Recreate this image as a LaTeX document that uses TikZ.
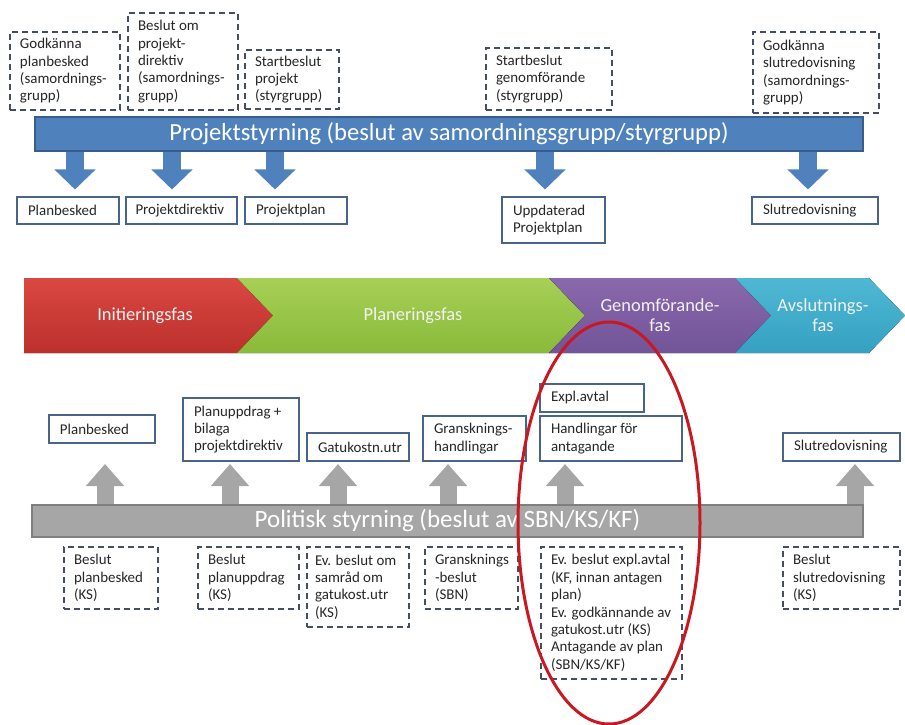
\documentclass[tikz,border=0pt]{standalone}
\usepackage{fontspec}
\setmainfont{Carlito}
\usetikzlibrary{arrows.meta}
\definecolor{styrbla}{RGB}{79,129,189}
\definecolor{styrblaram}{RGB}{56,93,138}
\definecolor{polgra}{RGB}{166,166,166}
\definecolor{polgraram}{RGB}{127,127,127}
\definecolor{dokram}{RGB}{72,100,138}
\definecolor{beslutram}{RGB}{68,78,98}
\definecolor{ringrod}{RGB}{200,25,35}
\tikzset{
    beslut/.style ={
        draw=beslutram,
        dash pattern=on 1.2mm off 0.8mm,
        line width=0.6pt,
        fill=white,
        inner xsep=2mm,
        inner ysep=0.4mm,
        align=flush left,
        text=black!85,
        font=\fontsize{8.5}{9.9}\selectfont
    },
    dok/.style ={
        draw=dokram,
        line width=0.6pt,
        fill=white,
        inner xsep=2.2mm,
        inner ysep=0.4mm,
        align=flush left,
        text=black!85,
        font=\fontsize{8.5}{9.9}\selectfont
    },
    styrbar/.style ={
        draw=styrblaram,
        fill=styrbla,
        line width=0.8pt,
        text=white,
        inner sep=0pt,
        font=\fontsize{14}{15}\selectfont
    },
    polbar/.style ={
        draw=polgraram,
        fill=polgra,
        line width=0.8pt,
        text=white,
        inner sep=0pt,
        font=\fontsize{14.2}{15}\selectfont
    },
    blapil/.style ={
        draw=styrbla,
        line width=3.6mm,
        -{Triangle[width=8mm,length=4mm]},
        shorten >=1.4mm
    },
    grapil/.style ={
        draw=polgra,
        line width=3.4mm,
        -{Triangle[width=7.4mm,length=4.4mm]}
    },
    fas/.style ={
        text=white!95!black,
        align=center,
        font=\fontsize{10.5}{11.5}\selectfont
    },
    ring/.style ={
        draw=ringrod,
        line width=0.6mm
    }
}

\begin{document}
\begin{tikzpicture}[x=0.2mm,y=-0.2mm]
    \useasboundingbox (0,0) rectangle (905,724);

    % projektstyrning
    \node[beslut,text width=18mm,minimum height=15.6mm] (gpb) at(65,71) {Godkänna\\planbesked\\(samordnings-\\grupp)};
    \node[beslut,text width=18mm,minimum height=19.4mm] (bpd) at(183,61.5) {Beslut om\\projekt-\\direktiv\\(samordnings-\\grupp)};
    \node[beslut,text width=14.8mm,minimum height=11.8mm] (sbp) at(292,79.5) {Startbeslut\\projekt\\(styrgrupp)};
    \node[beslut,text width=21.2mm,minimum height=12.4mm] (sbg) at(549,79) {Startbeslut\\genomförande\\(styrgrupp)};
    \node[beslut,text width=21.2mm,minimum height=16.2mm] (gsr) at(816,72.5) {Godkänna\\slutredovisning\\(samordnings-\\grupp)};

    \node[styrbar,minimum width=165.6mm,minimum height=6.8mm] (styr) at(449,134) {Projektstyrning (beslut av samordningsgrupp/styrgrupp)};

    \node[dok,text width=16mm,minimum height=5.4mm] (pb) at(68,210.5) {Planbesked};
    \node[dok,text width=18.4mm,inner xsep=1.9mm,minimum height=5.4mm] (pd) at(181.5,210.5) {Projektdirektiv};
    \node[dok,text width=16mm,minimum height=5.4mm] (pp) at(296,210.5) {Projektplan};
    \node[dok,text width=16.2mm,minimum height=9.2mm] (upp) at(553.5,220) {Uppdaterad\\Projektplan};
    \node[dok,text width=20.8mm,minimum height=5.4mm] (sr) at(815,210.5) {Slutredovisning};

    \coordinate (b1) at(75,190);
    \coordinate (b2) at(172,190);
    \coordinate (b3) at(275,190);
    \coordinate (b4) at(545,190);
    \coordinate (b5) at(808,190);
    \draw[blapil] (styr.south -| b1) -- (pb.north -| b1);
    \draw[blapil] (styr.south -| b2) -- (pd.north -| b2);
    \draw[blapil] (styr.south -| b3) -- (pp.north -| b3);
    \draw[blapil] (styr.south -| b4) -- (upp.north -| b4);
    \draw[blapil] (styr.south -| b5) -- (sr.north -| b5);

    % faser
    \fill[top color={rgb,255:red,218;green,72;blue,66},bottom color={rgb,255:red,188;green,48;blue,44}]
        (24,278) -- (237,278) -- (273,315.5) -- (237,353) -- (24,353) -- cycle;
    \fill[top color={rgb,255:red,166;green,208;blue,86},bottom color={rgb,255:red,138;green,186;blue,58}]
        (237,278) -- (549,278) -- (585,315.5) -- (549,353) -- (237,353) -- (273,315.5) -- cycle;
    \fill[top color={rgb,255:red,138;green,104;blue,172},bottom color={rgb,255:red,114;green,84;blue,152}]
        (549,278) -- (735,278) -- (771,315.5) -- (735,353) -- (549,353) -- (585,315.5) -- cycle;
    \fill[top color={rgb,255:red,78;green,184;blue,212},bottom color={rgb,255:red,54;green,160;blue,194}]
        (735,278) -- (869,278) -- (905,315.5) -- (869,353) -- (735,353) -- (771,315.5) -- cycle;
    \node[fas] (init) at(145,315.5) {Initieringsfas};
    \node[fas] (plan) at(413,315.5) {Planeringsfas};
    \node[fas] (genom) at(660,315.5) {Genomförande-\\fas};
    \node[fas] (avsl) at(823,315.5) {Avslutnings-\\fas};

    % politisk styrning
    \node[dok,text width=16.8mm,minimum height=5.6mm] (lpb) at(102,429) {Planbesked};
    \node[dok,text width=18.8mm,minimum height=12.6mm] (pu) at(241,429.5) {Planuppdrag +\\bilaga\\projektdirektiv};
    \node[dok,text width=16mm,minimum height=5.6mm] (gk) at(358,447) {Gatukostn.utr};
    \node[dok,text width=16.2mm,minimum height=9mm] (gh) at(474.5,438.5) {Gransknings-\\handlingar};
    \node[dok,text width=16.4mm,minimum height=5.6mm] (ea) at(592,398) {Expl.avtal};
    \node[dok,text width=24mm,minimum height=9mm] (ha) at(611,438.5) {Handlingar för\\antagande};
    \node[dok,text width=19mm,minimum height=5.6mm] (lsr) at(841.5,447) {Slutredovisning};

    \node[polbar,minimum width=166.2mm,minimum height=6.4mm] (pol) at(447.5,521) {Politisk styrning (beslut av SBN/KS/KF)};

    \coordinate (g1) at(105,464);
    \coordinate (g2) at(230,464);
    \coordinate (g3) at(338,464);
    \coordinate (g4) at(448,464);
    \coordinate (g5) at(565,464);
    \coordinate (g6) at(855,464);
    \foreach \g in {g1,g2,g3,g4,g5,g6}
        \draw[grapil] (pol.north -| \g) -- (\g);

    \node[beslut,text width=14.8mm,minimum height=12.4mm] (bpb) at(111,578) {Beslut\\planbesked\\(KS)};
    \node[beslut,text width=16.2mm,minimum height=12.4mm] (bpu) at(248.5,578) {Beslut\\planuppdrag\\(KS)};
    \node[beslut,text width=17.2mm,inner xsep=1.6mm,minimum height=16mm] (ebs) at(358,587) {Ev. beslut om\\samråd om\\gatukost.utr\\(KS)};
    \node[beslut,text width=14.6mm,minimum height=12.4mm] (gb) at(471.5,578) {Gransknings\\-beslut\\(SBN)};
    \node[beslut,text width=24.2mm,minimum height=26.4mm] (evb) at(611.5,613) {Ev. beslut expl.avtal\\(KF, innan antagen\\plan)\\Ev. godkännande av\\gatukost.utr (KS)\\Antagande av plan\\(SBN/KS/KF)};
    \node[beslut,text width=19.4mm,minimum height=12.4mm] (bsr) at(841.5,578) {Beslut\\slutredovisning\\(KS)};

    % markering
    \draw[ring] (609,523) ellipse [x radius=91, y radius=201];
\end{tikzpicture}
\end{document}
